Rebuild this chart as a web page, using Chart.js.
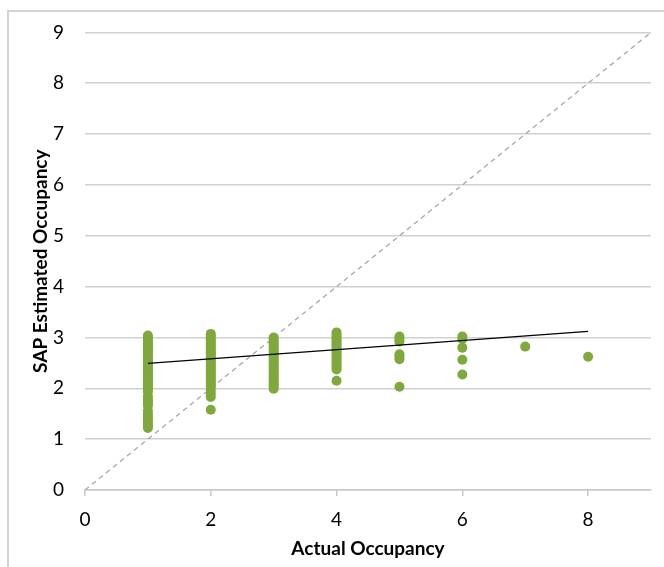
<!DOCTYPE html>
<html>
<head>
<meta charset="utf-8">
<script src="https://cdn.jsdelivr.net/npm/chart.js@4/dist/chart.umd.min.js"></script>
<style>
  html, body { margin: 0; padding: 0; background: #fff; }
  #wrap { position: relative; width: 664px; height: 567px; overflow: hidden; }
  #frame { position: absolute; left: 7px; top: 10px; width: 700px; height: 600px;
           border-left: 2px solid #d3d3d3; border-top: 2px solid #d3d3d3; box-sizing: border-box; }
  canvas { position: absolute; left: 0; top: 0; }
</style>
</head>
<body>
<div id="wrap">
  <div id="frame"></div>
  <canvas id="c" width="664" height="567"></canvas>
</div>
<script>
// Actual occupancy categories (x) and SAP estimated occupancy values (y) per category
const actualOccupancy = [1, 2, 3, 4, 5, 6, 7, 8];
const sapAt1 = [3.04,3.0,2.96,2.92,2.88,2.85,2.82,2.78,2.75,2.72,2.68,2.65,2.62,2.58,2.55,2.52,2.48,2.45,2.42,2.38,2.35,2.32,2.28,2.25,2.22,2.18,2.15,2.12,2.08,2.05,2.02,1.98,1.93,1.84,1.78,1.74,1.70,1.66,1.56,1.50,1.45,1.40,1.35,1.30,1.26,1.22];
const sapAt2 = [3.07,3.03,2.99,2.95,2.91,2.87,2.83,2.79,2.75,2.71,2.67,2.63,2.59,2.55,2.51,2.47,2.43,2.39,2.35,2.31,2.27,2.23,2.19,2.15,2.11,2.07,2.03,1.97,1.90,1.83,1.58];
const sapAt3 = [3.0,2.96,2.92,2.88,2.84,2.8,2.76,2.72,2.68,2.64,2.6,2.56,2.52,2.48,2.44,2.4,2.36,2.32,2.28,2.24,2.2,2.16,2.12,2.08,2.04,1.99];
const sapAt4 = [3.1,3.06,3.02,2.98,2.94,2.9,2.86,2.82,2.78,2.74,2.7,2.66,2.62,2.58,2.54,2.5,2.46,2.42,2.37,2.15];
const sapAt5 = [3.02,2.97,2.92,2.67,2.62,2.57,2.03];
const sapAt6 = [3.02,2.97,2.8,2.56,2.27];
const sapAt7 = [2.82];
const sapAt8 = [2.62];
const sapByOccupancy = [sapAt1, sapAt2, sapAt3, sapAt4, sapAt5, sapAt6, sapAt7, sapAt8];

// Linear trend line end points
const trendX = [1, 8];
const trendY = [2.49, 3.12];
// 1:1 reference line
const identityX = [0, 9];
const identityY = [0, 9];

const xTicks = [0, 2, 4, 6, 8];
const yTicks = [0, 1, 2, 3, 4, 5, 6, 7, 8, 9];

const scatterPoints = [];
actualOccupancy.forEach((x, i) => sapByOccupancy[i].forEach(y => scatterPoints.push({x, y})));
const trendPoints = trendX.map((x, i) => ({x, y: trendY[i]}));
const identityPoints = identityX.map((x, i) => ({x, y: identityY[i]}));

const tickFont = { family: 'Lato', size: 19 };
const titleFont = { family: 'Lato', size: 19, weight: 'bold' };

new Chart(document.getElementById('c'), {
  type: 'scatter',
  data: {
    datasets: [
      { label: 'Trend', data: trendPoints, showLine: true, borderColor: '#000', borderWidth: 1.2,
        pointRadius: 0, order: 0 },
      { label: 'SAP Estimated', data: scatterPoints, backgroundColor: '#7fa83e', borderWidth: 0,
        pointRadius: 5, order: 1 },
      { label: 'Identity', data: identityPoints, showLine: true, borderColor: '#a8a8a8', borderWidth: 1.3,
        borderDash: [5, 4], pointRadius: 0, order: 2 }
    ]
  },
  options: {
    responsive: false,
    animation: false,
    layout: { padding: { left: 0, top: 29, right: 13, bottom: 0 } },
    plugins: { legend: { display: false }, tooltip: { enabled: false } },
    scales: {
      x: {
        type: 'linear', min: 0, max: 9,
        afterBuildTicks: s => { s.ticks = xTicks.map(v => ({ value: v })); },
        afterFit: s => { s.height = 77; },
        grid: { drawOnChartArea: false, drawTicks: true, tickLength: 6, tickColor: '#c8c8c8', lineWidth: 1.5 },
        border: { display: true, color: '#c8c8c8', width: 1.5 },
        ticks: { font: tickFont, color: '#000', padding: 12, maxRotation: 0 },
        title: { display: true, text: 'Actual Occupancy', font: titleFont, color: '#000',
                 padding: { top: 0, bottom: 7 } }
      },
      y: {
        type: 'linear', min: 0, max: 9,
        afterBuildTicks: s => { s.ticks = yTicks.map(v => ({ value: v })); },
        afterFit: s => { s.width = 85; },
        grid: { drawTicks: false, color: '#d0d0d0', lineWidth: 1.5 },
        border: { display: false },
        ticks: { font: tickFont, color: '#000', padding: 21 },
        title: { display: true, text: 'SAP Estimated Occupancy', font: titleFont, color: '#000',
                 padding: { top: 29, bottom: 0 } }
      }
    }
  }
});
</script>
</body>
</html>
